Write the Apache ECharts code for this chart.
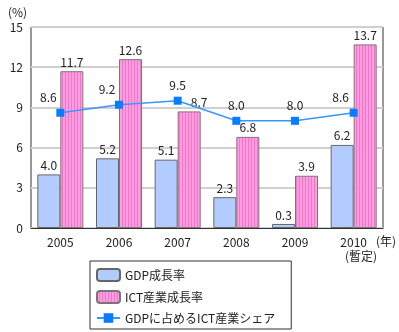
<!DOCTYPE html>
<html>
<head>
<meta charset="utf-8">
<script src="https://cdn.jsdelivr.net/npm/echarts@6/dist/echarts.min.js"></script>
<style>html,body{margin:0;padding:0;background:#fff}#c{width:399px;height:332px}</style>
</head>
<body>
<div id="c"></div>
<script>
const categories = ['2005', '2006', '2007', '2008', '2009', '2010'];
const gdpGrowth = [4.0, 5.2, 5.1, 2.3, 0.3, 6.2];
const ictGrowth = [11.7, 12.6, 8.7, 6.8, 3.9, 13.7];
const ictShare = [8.6, 9.2, 9.5, 8.0, 8.0, 8.6];
const yTicks = [0, 3, 6, 9, 12, 15];
const shareLabelShift = [-12, -12, 0, 0, 0, -13];
const ictLabelShift = [0, 0, 10, 0, 0, 0];

const FONT = '"Noto Sans CJK JP", "DejaVu Sans", sans-serif';

const pc = document.createElement('canvas');
pc.width = 3; pc.height = 4;
const px = pc.getContext('2d');
px.fillStyle = '#ff9fe0'; px.fillRect(0, 0, 3, 4);
px.fillStyle = '#ff6fcc'; px.fillRect(2, 0, 1, 4);
const stripe = { image: pc, repeat: 'repeat' };

const chart = echarts.init(document.getElementById('c'), null, { renderer: 'canvas' });
chart.setOption({
  animation: false,
  textStyle: { fontFamily: FONT },
  grid: { left: 31, right: 16, top: 27, bottom: 104, show: true, borderColor: '#333', borderWidth: 1, backgroundColor: 'transparent' },
  xAxis: {
    type: 'category', data: categories,
    axisLine: { lineStyle: { color: '#333', width: 1 } },
    axisTick: { show: false },
    axisLabel: { color: '#222', fontSize: 12, margin: 8, fontFamily: FONT }
  },
  yAxis: {
    type: 'value', min: yTicks[0], max: yTicks[yTicks.length - 1], interval: 3,
    axisLine: { show: false }, axisTick: { show: false },
    axisLabel: { color: '#222', fontSize: 12, margin: 8, fontFamily: FONT },
    splitLine: { lineStyle: { color: '#d0d0d0', width: 2 } }
  },
  legend: {
    orient: 'vertical', left: 90, top: 261,
    padding: [7, 16, 5, 6], itemGap: 8, itemWidth: 23, itemHeight: 12,
    borderColor: '#333', borderWidth: 1, borderRadius: 0,
    textStyle: { fontSize: 12, color: '#222', fontFamily: FONT },
    data: ['GDP成長率', 'ICT産業成長率', 'GDPに占めるICT産業シェア']
  },
  series: [
    {
      name: 'GDP成長率', type: 'bar', data: gdpGrowth, barWidth: 23, barGap: '0%',
      itemStyle: { color: '#b3ccff', borderColor: '#666', borderWidth: 1 },
      label: { show: true, position: 'top', distance: 3, color: '#222', fontSize: 12, fontFamily: FONT, formatter: p => p.value.toFixed(1) }
    },
    {
      name: 'ICT産業成長率', type: 'bar', barWidth: 23,
      data: ictGrowth.map((v, i) => ({ value: v, label: { offset: [ictLabelShift[i], 0] } })),
      itemStyle: { color: stripe, borderColor: '#777', borderWidth: 1 },
      label: { show: true, position: 'top', distance: 3, color: '#222', fontSize: 12, fontFamily: FONT, formatter: p => p.value.toFixed(1) }
    },
    {
      name: 'GDPに占めるICT産業シェア', type: 'line',
      data: ictShare.map((v, i) => ({ value: v, label: { offset: [shareLabelShift[i], 0] } })),
      symbol: 'rect', symbolSize: 8,
      lineStyle: { color: '#3a96ff', width: 1.5 },
      itemStyle: { color: '#0a7cff' },
      label: { show: true, position: 'top', distance: 5, color: '#222', fontSize: 12, fontFamily: FONT, formatter: p => p.value.toFixed(1) },
      z: 5
    }
  ],
  graphic: [
    { type: 'text', left: 8, top: 6, style: { text: '(%)', fontSize: 12, fill: '#222', fontFamily: FONT } },
    { type: 'text', left: 376, top: 235, style: { text: '(年)', fontSize: 12, fill: '#222', fontFamily: FONT } },
    { type: 'text', left: 345, top: 250, style: { text: '(暫定)', fontSize: 12, fill: '#222', fontFamily: FONT } }
  ]
});
</script>
</body>
</html>
